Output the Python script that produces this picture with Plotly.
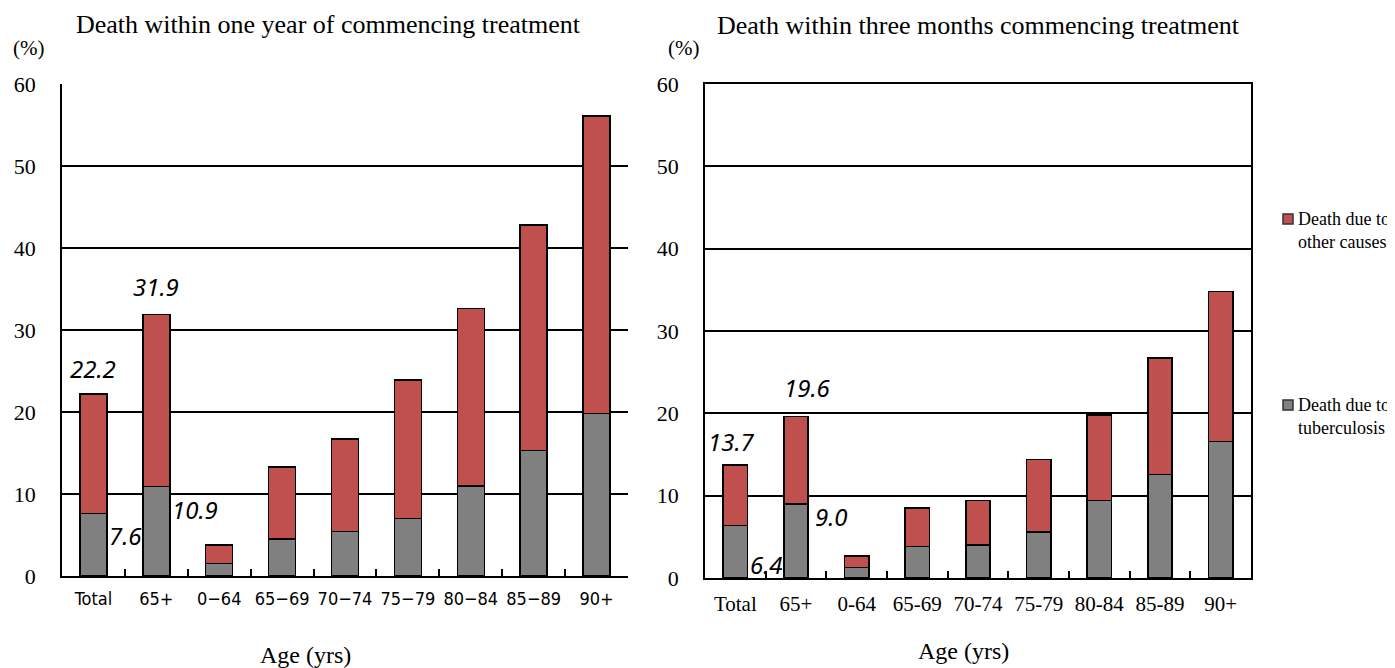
import plotly.graph_objects as go

left_labels = ["Total", "65+", "0\u221264", "65\u221269", "70\u221274", "75\u221279", "80\u221284", "85\u221289", "90+"]
right_labels = ["Total", "65+", "0-64", "65-69", "70-74", "75-79", "80-84", "85-89", "90+"]

one_year_total = [22.2, 31.9, 3.8, 13.3, 16.7, 23.9, 32.6, 42.8, 56.1]
one_year_tb = [7.6, 10.9, 1.5, 4.5, 5.4, 7.0, 11.0, 15.3, 19.8]
three_month_total = [13.7, 19.6, 2.7, 8.5, 9.4, 14.4, 19.8, 26.7, 34.8]
three_month_tb = [6.4, 9.0, 1.3, 3.8, 4.0, 5.6, 9.4, 12.6, 16.6]

legend_names = ["Death due to<br>other causes", "Death due to<br>tuberculosis"]

one_year_other = [round(t - b, 1) for t, b in zip(one_year_total, one_year_tb)]
three_month_other = [round(t - b, 1) for t, b in zip(three_month_total, three_month_tb)]

RED = "#C0504D"
GRAY = "#808080"
SERIF = "Liberation Serif, Times New Roman, serif"
SANS_N = "Liberation Sans Narrow, DejaVu Sans Condensed, Arial Narrow, sans-serif"
LBL = "Noto Sans, Open Sans, sans-serif"

# page body has an 8px margin: the figure is drawn from (8, 8)
OFF = 8
W, H = 1395 - OFF, 668 - OFF

fig = go.Figure()
line = dict(color="black", width=1.5)

fig.add_trace(go.Bar(x=left_labels, y=one_year_tb, marker=dict(color=GRAY, line=line),
                     name="Death due to tuberculosis", xaxis="x", yaxis="y", showlegend=False, width=0.43))
fig.add_trace(go.Bar(x=left_labels, y=one_year_other, marker=dict(color=RED, line=line),
                     name="Death due to other causes", xaxis="x", yaxis="y", showlegend=False, width=0.43))
fig.add_trace(go.Bar(x=right_labels, y=three_month_tb, marker=dict(color=GRAY, line=line),
                     name="Death due to tuberculosis", xaxis="x2", yaxis="y2", showlegend=False, width=0.4))
fig.add_trace(go.Bar(x=right_labels, y=three_month_other, marker=dict(color=RED, line=line),
                     name="Death due to other causes", xaxis="x2", yaxis="y2", showlegend=False, width=0.4))


def px(x):
    return (x - OFF) / W


def py(y):
    return (H - (y - OFF)) / H


yax_common = dict(range=[0, 60], dtick=10, showgrid=True, gridcolor="black", gridwidth=1.5,
                  zeroline=False, showline=True, linecolor="black", linewidth=1.5,
                  ticks="", tickfont=dict(family=SERIF, size=22, color="black"),
                  ticklabelstandoff=20, fixedrange=True, automargin=False)

fig.update_layout(
    width=W, height=H, barmode="stack", showlegend=False,
    margin=dict(l=0, r=0, t=0, b=0, pad=0, autoexpand=False),
    paper_bgcolor="white", plot_bgcolor="white",
    xaxis=dict(domain=[px(62), px(628)], anchor="y", showline=True, linecolor="black", linewidth=1.5,
               tickson="boundaries", ticks="inside", ticklen=7, tickcolor="black", tickwidth=1.5,
               tickangle=0, tickfont=dict(family=SANS_N, size=18, color="black"), ticklabelstandoff=6,
               automargin=False, fixedrange=True),
    yaxis=dict(domain=[py(576), py(84)], anchor="x", **yax_common),
    xaxis2=dict(domain=[px(705), px(1251)], anchor="y2", showline=True, mirror=True, linecolor="black",
                linewidth=1.5, tickson="boundaries", ticks="inside", ticklen=7, tickcolor="black",
                tickwidth=1.5, tickangle=0, tickfont=dict(family=SERIF, size=21, color="black"),
                ticklabelstandoff=6, automargin=False, fixedrange=True),
    yaxis2=dict(domain=[py(578), py(84)], anchor="x2", mirror=True, **yax_common),
)

ann = []


def txt(text, x, y, size, family=SERIF, xanchor="center", align="center"):
    return dict(text=text, x=px(x), y=py(y), xref="paper", yref="paper", showarrow=False,
                xanchor=xanchor, yanchor="middle", align=align,
                font=dict(family=family, size=size, color="black"))


ann.append(txt("Death within one year of commencing treatment", 328, 24, 26))
ann.append(txt("Death within three months commencing treatment", 978, 26, 26))
ann.append(txt("(%)", 28, 48, 21))
ann.append(txt("(%)", 683, 48, 21))
ann.append(txt("Age (yrs)", 305, 655, 24))
ann.append(txt("Age (yrs)", 963, 651, 24))

# legend (drawn manually to match the reference's spacing)
shapes = []
for name, color, ytop in [(legend_names[0], RED, 219), (legend_names[1], GRAY, 405)]:
    ann.append(dict(text=name, x=px(1296), y=py(ytop - 12), xref="paper", yref="paper", showarrow=False,
                    xanchor="left", yanchor="top", align="left",
                    font=dict(family=SERIF, size=18, color="black")))
    shapes.append(dict(type="rect", xref="paper", yref="paper", x0=px(1283), x1=px(1293),
                       y0=py(ytop - 5), y1=py(ytop + 5), fillcolor=color,
                       line=dict(color="#333333", width=1.5)))

lab_font = dict(family=LBL, size=24, color="black", style="italic")
for xr, yr, labels, tot, shifts in [("x", "y", left_labels, one_year_total, [(0, 7), (0, 9)]),
                                    ("x2", "y2", right_labels, three_month_total, [(-4, 5), (11, 11)])]:
    for i in range(2):
        ann.append(dict(text=f"{tot[i]:.1f}", x=labels[i], y=tot[i], xref=xr, yref=yr, showarrow=False,
                        xanchor="center", yanchor="bottom", xshift=shifts[i][0], yshift=shifts[i][1],
                        font=lab_font))
for xr, yr, labels, tb, shifts in [("x", "y", left_labels, one_year_tb, [(14, -22), (14, -23)]),
                                   ("x2", "y2", right_labels, three_month_tb, [(13, -39), (17, -13)])]:
    for i in range(2):
        ann.append(dict(text=f"{tb[i]:.1f}", x=labels[i], y=tb[i], xref=xr, yref=yr, showarrow=False,
                        xanchor="left", yanchor="middle", xshift=shifts[i][0], yshift=shifts[i][1],
                        font=lab_font))

fig.update_layout(annotations=ann, shapes=shapes)
fig.write_html("out.html")
